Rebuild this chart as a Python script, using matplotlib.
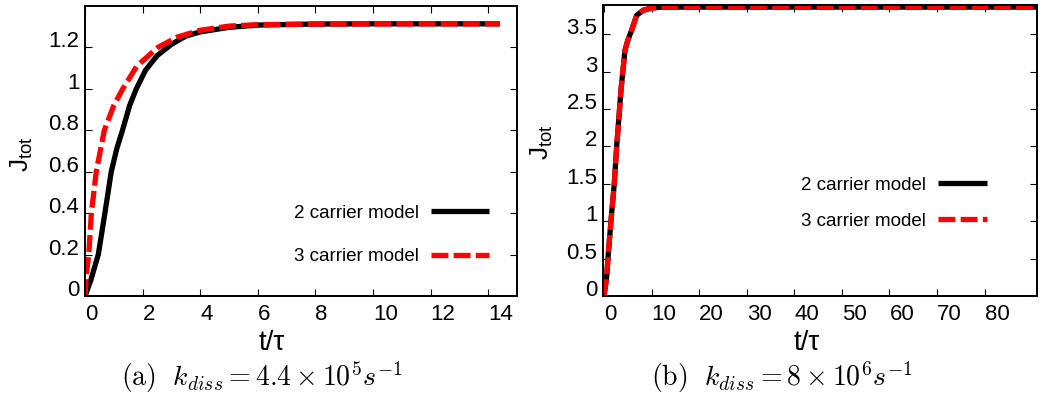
import matplotlib
matplotlib.use("Agg")
import matplotlib.pyplot as plt

plt.rcParams['font.family'] = ['Liberation Sans', 'DejaVu Sans']
plt.rcParams['mathtext.fontset'] = 'custom'
plt.rcParams['mathtext.rm'] = 'Liberation Sans'
plt.rcParams['mathtext.it'] = 'Liberation Sans:italic'
plt.rcParams['mathtext.bf'] = 'Liberation Sans:bold'

# ---- data ----
# panel (a)
t2a = [0, 0.2, 0.46, 0.69, 0.91, 1.1, 1.3, 1.55, 1.78, 2.1, 2.5, 3.0, 3.5, 4.0, 5.0, 6.0, 8.0, 10.0, 12.0, 14.4]
J2a = [0, 0.076, 0.2, 0.4, 0.6, 0.71, 0.8, 0.92, 1.0, 1.09, 1.16, 1.215, 1.255, 1.275, 1.297, 1.308, 1.313, 1.314, 1.314, 1.314]
t3a = [0, 0.04, 0.13, 0.22, 0.39, 0.67, 1.0, 1.31, 1.8, 2.53, 3.2, 4.0, 5.0, 6.0, 8.0, 10.0, 12.0, 14.4]
J3a = [0, 0.1, 0.2, 0.4, 0.6, 0.8, 0.92, 1.0, 1.11, 1.2, 1.25, 1.283, 1.303, 1.31, 1.313, 1.314, 1.314, 1.314]
# panel (b)
t2b = [0, 0.56, 0.91, 1.61, 2.17, 2.66, 3.15, 3.57, 4.06, 4.41, 4.97, 5.8, 6.85, 8.25, 10, 12, 15, 20, 92]
J2b = [0, 0.25, 0.565, 1.10, 1.50, 1.99, 2.39, 2.75, 3.06, 3.28, 3.41, 3.55, 3.75, 3.82, 3.85, 3.86, 3.862, 3.862, 3.862]
t3b = t2b
J3b = J2b

labels = ["2 carrier model", "3 carrier model"]
xticks_a = [0, 2, 4, 6, 8, 10, 12, 14]
yticks_a = [0, 0.2, 0.4, 0.6, 0.8, 1, 1.2]
yticklabels_a = ["0", "0.2", "0.4", "0.6", "0.8", "1", "1.2"]
xticks_b = [0, 10, 20, 30, 40, 50, 60, 70, 80]
yticks_b = [0, 0.5, 1, 1.5, 2, 2.5, 3, 3.5]
yticklabels_b = ["0", "0.5", "1", "1.5", "2", "2.5", "3", "3.5"]
captions = [r"$\mathrm{(a)}\ \ k_{diss} = 4.4 \times 10^{5}s^{-1}$",
            r"$\mathrm{(b)}\ \ k_{diss} = 8 \times 10^{6}s^{-1}$"]

fig = plt.figure(figsize=(10.42, 4.01), dpi=100)
axa = fig.add_axes([0.0816, 0.2618, 0.4146, 0.7232])
axb = fig.add_axes([0.5787, 0.2618, 0.4165, 0.7257])

lw = 3.8
dash = (3.2, 1.0)

def style(ax):
    for s in ax.spines.values():
        s.set_linewidth(1.4)
    ax.tick_params(direction='in', top=True, right=True, length=5, width=0.8,
                   labelsize=16)
    ax.tick_params(axis='x', pad=6)
    ax.tick_params(axis='y', pad=4)
    for lbl in ax.get_xticklabels():
        lbl.set_horizontalalignment('left')
    for lbl in ax.get_yticklabels():
        lbl.set_verticalalignment('baseline')

# panel a
axa.plot(t2a, J2a, color='black', lw=lw, solid_capstyle='butt', label=labels[0])
axa.plot(t3a, J3a, color='#ff0000', lw=lw, dashes=dash, label=labels[1])
axa.set_xlim(0, 15)
axa.set_ylim(0, 1.4)
axa.set_xticks(xticks_a)
axa.set_yticks(yticks_a)
axa.set_yticklabels(yticklabels_a)
style(axa)
axa.set_xlabel("t/τ", fontsize=20)
axa.xaxis.set_label_coords(0.433, -0.117)
axa.set_ylabel(r"J$_{\mathrm{tot}}$", fontsize=19)
axa.yaxis.set_label_coords(-0.116, 0.49)
axa.legend(loc='upper right', bbox_to_anchor=(0.935, 0.316), frameon=False,
           markerfirst=False, fontsize=13.5, handlelength=3.1, handletextpad=0.65,
           labelspacing=1.42, borderpad=0, borderaxespad=0)

# panel b
axb.plot(t2b, J2b, color='black', lw=lw, solid_capstyle='butt', label=labels[0])
axb.plot(t3b, J3b, color='#ff0000', lw=lw, dashes=dash, label=labels[1])
axb.set_xlim(-0.2, 91)
axb.set_ylim(0, 3.89)
axb.set_xticks(xticks_b)
axb.set_yticks(yticks_b)
axb.set_yticklabels(yticklabels_b)
style(axb)
axb.set_xlabel("t/τ", fontsize=20)
axb.xaxis.set_label_coords(0.47, -0.117)
axb.set_ylabel(r"J$_{\mathrm{tot}}$", fontsize=19)
axb.yaxis.set_label_coords(-0.11, 0.53)
axb.legend(loc='upper right', bbox_to_anchor=(0.884, 0.411), frameon=False,
           markerfirst=False, fontsize=13.5, handlelength=2.6, handletextpad=0.65,
           labelspacing=1.03, borderpad=0, borderaxespad=0)

fig.text(262 / 1042, 1 - 377 / 401, captions[0], fontsize=20, ha='center', va='center',
         math_fontfamily='cm')
fig.text(782 / 1042, 1 - 377 / 401, captions[1], fontsize=20, ha='center', va='center',
         math_fontfamily='cm')

fig.savefig("out.png", dpi=100)
